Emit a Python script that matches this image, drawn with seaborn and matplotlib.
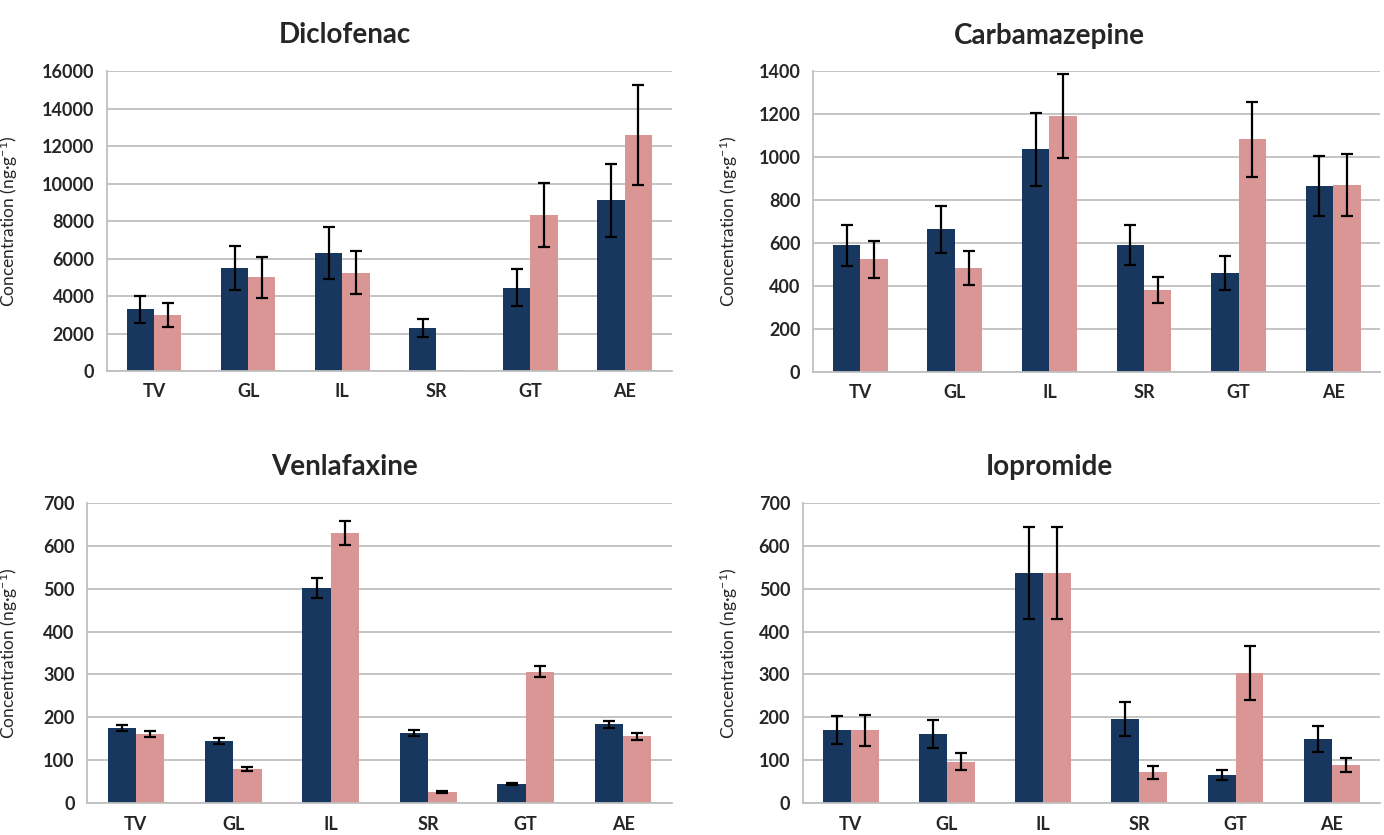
import pandas as pd
import matplotlib
matplotlib.use('Agg')
import matplotlib.pyplot as plt
import seaborn as sns

sites = ['TV', 'GL', 'IL', 'SR', 'GT', 'AE']
groups = ['A', 'B']

# Diclofenac
dic_a = [3300, 5500, 6300, 2300, 4450, 9120]
dic_a_err = [720, 1170, 1400, 480, 1000, 1950]
dic_b = [3000, 5000, 5250, 60, 8320, 12600]
dic_b_err = [640, 1080, 1150, 0, 1700, 2650]

# Carbamazepine
carb_a = [590, 665, 1037, 591, 460, 867]
carb_a_err = [95, 110, 170, 95, 80, 140]
carb_b = [525, 484, 1192, 381, 1084, 870]
carb_b_err = [85, 80, 195, 60, 175, 145]

# Venlafaxine
venl_a = [175, 145, 501, 163, 45, 184]
venl_a_err = [7, 7, 23, 7, 2, 8]
venl_b = [161, 79, 629, 26, 306, 156]
venl_b_err = [7, 4, 28, 2, 13, 8]

# Iopromide
iop_a = [170, 161, 536, 196, 65, 150]
iop_a_err = [33, 32, 107, 40, 12, 30]
iop_b = [170, 96, 536, 72, 303, 89]
iop_b_err = [36, 20, 107, 15, 63, 17]

panels = [
    ('Diclofenac', dic_a, dic_a_err, dic_b, dic_b_err, 16000, 2000,
     [0.0773, 0.5557, 0.408, 0.359], 0.421, -0.154),
    ('Carbamazepine', carb_a, carb_a_err, carb_b, carb_b_err, 1400, 200,
     [0.5874, 0.5545, 0.410, 0.360], 0.416, -0.129),
    ('Venlafaxine', venl_a, venl_a_err, venl_b, venl_b_err, 700, 100,
     [0.0629, 0.0383, 0.4226, 0.3593], 0.441, -0.115),
    ('Iopromide', iop_a, iop_a_err, iop_b, iop_b_err, 700, 100,
     [0.5800, 0.0383, 0.417, 0.3593], 0.427, -0.109),
]

navy = '#17375E'
pink = '#D99694'
grid_col = '#BFBFBF'

sns.set_style('white')
plt.rcParams['font.family'] = ['Lato', 'DejaVu Sans']
plt.rcParams['mathtext.default'] = 'regular'

fig = plt.figure(figsize=(13.84, 8.35), dpi=100)

for title, a, a_err, b, b_err, ymax, step, pos, tx, lx in panels:
    ax = fig.add_axes(pos)
    df = pd.DataFrame({
        'site': sites * 2,
        'group': ['A'] * 6 + ['B'] * 6,
        'value': a + b,
    })
    sns.barplot(data=df, x='site', y='value', hue='group', order=sites,
                hue_order=groups, palette=[navy, pink], width=0.58,
                saturation=1, linewidth=0, errorbar=None, legend=False,
                ax=ax, zorder=2)
    for cont, errs in zip(ax.containers, [a_err, b_err]):
        for bar, e in zip(cont, errs):
            if e <= 0:
                continue
            xc = bar.get_x() + bar.get_width() / 2
            ax.errorbar(xc, bar.get_height(), yerr=e, fmt='none',
                        ecolor='black', elinewidth=1.6, capsize=4,
                        capthick=1.6, zorder=3)
    ax.set_ylim(0, ymax)
    ax.set_xlim(-0.5, 5.5)
    ax.set_yticks(range(0, ymax + 1, step))
    ax.yaxis.grid(True, color=grid_col, linewidth=1.3, zorder=0)
    ax.set_axisbelow(True)
    for s in ['top', 'right']:
        ax.spines[s].set_visible(False)
    for s in ['left', 'bottom']:
        ax.spines[s].set_color(grid_col)
        ax.spines[s].set_linewidth(1.3)
    ax.set_xticks([i - 0.5 for i in range(7)], minor=True)
    ax.tick_params(axis='x', which='major', length=0, pad=9)
    ax.tick_params(axis='x', which='minor', length=6, color=grid_col,
                   width=1.2, direction='out')
    ax.tick_params(axis='y', length=5, color=grid_col, width=1.2,
                   direction='out', pad=4)
    for lab in ax.get_xticklabels() + ax.get_yticklabels():
        lab.set_fontweight('bold')
        lab.set_fontsize(13)
    ax.set_xlabel('')
    ax.set_ylabel('Concentration (ng·g$^{-1}$)', fontsize=12.5)
    ax.yaxis.set_label_coords(lx, 0.5)
    ax.set_title(title, fontsize=20, fontweight='bold', x=tx, pad=20)

fig.savefig('out.png', dpi=100)
